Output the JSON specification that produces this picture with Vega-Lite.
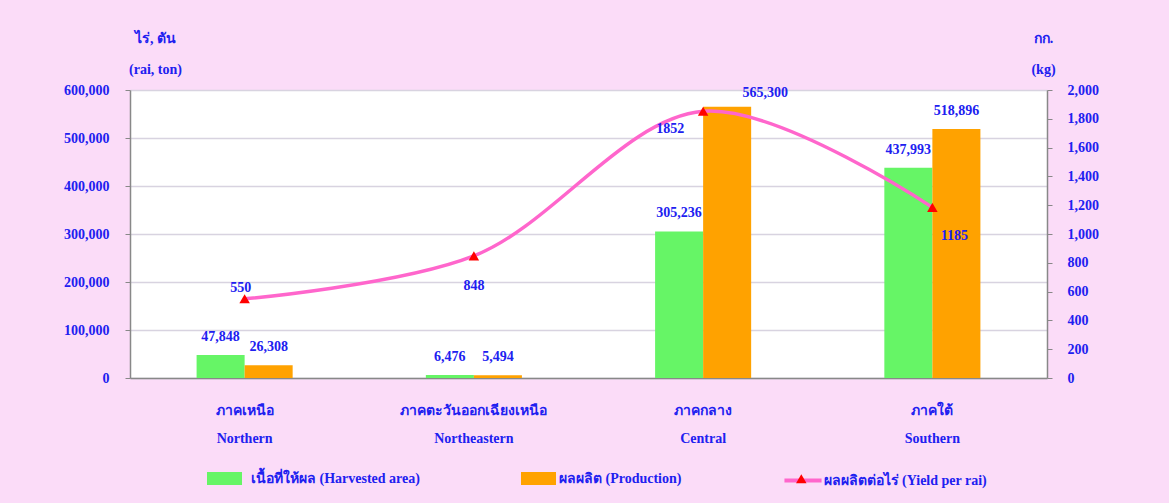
{
  "$schema": "https://vega.github.io/schema/vega-lite/v6.json",
  "width": 917,
  "height": 288,
  "autosize": {"type": "none"},
  "padding": {"left": 130, "top": 90, "right": 122, "bottom": 125},
  "background": "#fbdcf8",
  "config": {
    "view": {"fill": "#ffffff", "stroke": null},
    "font": "Liberation Serif",
    "axis": {
      "labelFont": "Liberation Serif",
      "labelFontWeight": "bold",
      "labelFontSize": 14,
      "labelColor": "#2020f0",
      "titleFont": "Liberation Serif",
      "titleFontWeight": "bold",
      "titleFontSize": 14,
      "titleColor": "#2020f0",
      "domainColor": "#888888",
      "tickColor": "#888888",
      "domainWidth": 1.5
    },
    "legend": {
      "orient": "none",
      "title": null,
      "padding": 0,
      "labelFont": "Liberation Serif",
      "labelFontWeight": "bold",
      "labelFontSize": 14,
      "labelColor": "#2020f0",
      "labelLimit": 400,
      "symbolOpacity": 1
    },
    "text": {"font": "Liberation Serif", "fontWeight": "bold", "fontSize": 14, "color": "#2020f0"}
  },
  "data": {
    "values": [
      {"region": "ภาคเหนือ|Northern", "series": "เนื้อที่ให้ผล  (Harvested area)", "value": 47848},
      {"region": "ภาคเหนือ|Northern", "series": "ผลผลิต  (Production)", "value": 26308},
      {"region": "ภาคเหนือ|Northern", "series": "ผลผลิตต่อไร่  (Yield per rai)", "value": 550},
      {"region": "ภาคตะวันออกเฉียงเหนือ|Northeastern", "series": "เนื้อที่ให้ผล  (Harvested area)", "value": 6476},
      {"region": "ภาคตะวันออกเฉียงเหนือ|Northeastern", "series": "ผลผลิต  (Production)", "value": 5494},
      {"region": "ภาคตะวันออกเฉียงเหนือ|Northeastern", "series": "ผลผลิตต่อไร่  (Yield per rai)", "value": 848},
      {"region": "ภาคกลาง|Central", "series": "เนื้อที่ให้ผล  (Harvested area)", "value": 305236},
      {"region": "ภาคกลาง|Central", "series": "ผลผลิต  (Production)", "value": 565300},
      {"region": "ภาคกลาง|Central", "series": "ผลผลิตต่อไร่  (Yield per rai)", "value": 1852},
      {"region": "ภาคใต้|Southern", "series": "เนื้อที่ให้ผล  (Harvested area)", "value": 437993},
      {"region": "ภาคใต้|Southern", "series": "ผลผลิต  (Production)", "value": 518896},
      {"region": "ภาคใต้|Southern", "series": "ผลผลิตต่อไร่  (Yield per rai)", "value": 1185}
    ]
  },
  "encoding": {
    "x": {
      "field": "region",
      "type": "nominal",
      "sort": null,
      "scale": {"paddingInner": 0.581, "paddingOuter": 0.2905},
      "axis": {
        "title": null,
        "labelExpr": "split(datum.value, '|')",
        "labelLineHeight": 28,
        "labelPadding": 25,
        "labelFontSize": 14,
        "labelAngle": 0,
        "ticks": false
      }
    }
  },
  "layer": [
    {
      "transform": [{"filter": "datum.series != 'ผลผลิตต่อไร่  (Yield per rai)'"}],
      "encoding": {
        "y": {
          "field": "value",
          "type": "quantitative",
          "scale": {"domain": [0, 600000]},
          "axis": {
            "values": [0, 100000, 200000, 300000, 400000, 500000, 600000],
            "format": ",d",
            "grid": true,
            "gridColor": "#d8d3e0",
            "gridWidth": 1.5,
            "tickSize": 5,
            "labelPadding": 16,
            "title": ["ไร่, ตัน", "(rai,  ton)"],
            "titleAngle": 0,
            "titleAlign": "center",
            "titleBaseline": "alphabetic",
            "titleX": 25,
            "titleY": -48,
            "titleLineHeight": 31
          }
        },
        "xOffset": {
          "field": "series",
          "type": "nominal",
          "scale": {"domain": ["เนื้อที่ให้ผล  (Harvested area)", "ผลผลิต  (Production)"], "paddingInner": 0, "paddingOuter": 0}
        }
      },
      "layer": [
        {
          "transform": [{"filter": "datum.series == 'เนื้อที่ให้ผล  (Harvested area)'"}],
          "mark": {"type": "bar"},
          "encoding": {
            "fill": {
              "field": "series",
              "type": "nominal",
              "scale": {"domain": ["เนื้อที่ให้ผล  (Harvested area)"], "range": ["#66f566"]},
              "legend": {
                "legendX": 77,
                "legendY": 371,
                "symbolSize": 1225,
                "symbolType": "M-1,-0.37H1V0.37H-1Z",
                "symbolStrokeWidth": 0,
                "labelOffset": 9
              }
            }
          }
        },
        {
          "transform": [{"filter": "datum.series == 'ผลผลิต  (Production)'"}],
          "mark": {"type": "bar"},
          "encoding": {
            "color": {
              "field": "series",
              "type": "nominal",
              "scale": {"domain": ["ผลผลิต  (Production)"], "range": ["#ffa200"]},
              "legend": {
                "legendX": 391,
                "legendY": 371,
                "symbolSize": 1225,
                "symbolType": "M-1,-0.37H1V0.37H-1Z",
                "symbolStrokeWidth": 0,
                "labelOffset": 3
              }
            }
          }
        },
        {
          "transform": [{"filter": "datum.region != 'ภาคกลาง|Central' || datum.series != 'ผลผลิต  (Production)'"}],
          "mark": {"type": "text", "dy": -14, "baseline": "alphabetic"},
          "encoding": {"text": {"field": "value", "type": "quantitative", "format": ","}}
        },
        {
          "transform": [{"filter": "datum.region == 'ภาคกลาง|Central' && datum.series == 'ผลผลิต  (Production)'"}],
          "mark": {"type": "text", "dy": -10, "dx": 38, "baseline": "alphabetic"},
          "encoding": {"text": {"field": "value", "type": "quantitative", "format": ","}}
        }
      ]
    },
    {
      "transform": [{"filter": "datum.series == 'ผลผลิตต่อไร่  (Yield per rai)'"}],
      "encoding": {
        "y": {
          "field": "value",
          "type": "quantitative",
          "scale": {"domain": [0, 2000]},
          "axis": {
            "orient": "right",
            "values": [0, 200, 400, 600, 800, 1000, 1200, 1400, 1600, 1800, 2000],
            "format": ",d",
            "grid": false,
            "tickSize": 5,
            "labelPadding": 15,
            "title": ["กก.", "(kg)"],
            "titleAngle": 0,
            "titleAlign": "center",
            "titleBaseline": "alphabetic",
            "titleX": -4,
            "titleY": -48,
            "titleLineHeight": 31
          }
        }
      },
      "layer": [
        {
          "mark": {"type": "line", "interpolate": "catmull-rom", "strokeWidth": 3.5},
          "encoding": {
            "stroke": {
              "field": "series",
              "type": "nominal",
              "scale": {"domain": ["ผลผลิตต่อไร่  (Yield per rai)"], "range": ["#ff66cc"]},
              "legend": {
                "legendX": 653.5,
                "legendY": 371,
                "symbolSize": 1225,
                "symbolType": "M-1.06,0H1.06",
                "symbolStrokeWidth": 4,
                "symbolFillColor": "transparent",
                "labelOffset": 1
              }
            }
          }
        },
        {
          "mark": {"type": "point", "filled": true, "color": "#ff0000", "size": 110, "opacity": 1},
          "encoding": {
            "shape": {
              "field": "series",
              "type": "nominal",
              "scale": {"domain": ["ผลผลิตต่อไร่  (Yield per rai)", "เนื้อที่ให้ผล  (Harvested area)"], "range": ["triangle-up", "triangle-up"]},
              "legend": {
                "values": ["ผลผลิตต่อไร่  (Yield per rai)"],
                "legendX": 665.8,
                "legendY": 383.3,
                "symbolSize": 110,
                "symbolFillColor": "#ff0000",
                "symbolStrokeColor": "#ff0000",
                "symbolStrokeWidth": 0,
                "labelExpr": "''",
                "labelFontSize": 1,
                "labelOffset": 0
              }
            }
          }
        },
        {
          "transform": [{"filter": "datum.region == 'ภาคเหนือ|Northern'"}],
          "mark": {"type": "text", "dy": -7, "dx": -4, "baseline": "alphabetic"},
          "encoding": {"text": {"field": "value", "type": "quantitative", "format": "d"}}
        },
        {
          "transform": [{"filter": "datum.region == 'ภาคตะวันออกเฉียงเหนือ|Northeastern'"}],
          "mark": {"type": "text", "dy": 34, "baseline": "alphabetic"},
          "encoding": {"text": {"field": "value", "type": "quantitative", "format": "d"}}
        },
        {
          "transform": [{"filter": "datum.region == 'ภาคกลาง|Central'"}],
          "mark": {"type": "text", "dy": 22, "dx": -33, "baseline": "alphabetic"},
          "encoding": {"text": {"field": "value", "type": "quantitative", "format": "d"}}
        },
        {
          "transform": [{"filter": "datum.region == 'ภาคใต้|Southern'"}],
          "mark": {"type": "text", "dy": 33, "dx": 22, "baseline": "alphabetic"},
          "encoding": {"text": {"field": "value", "type": "quantitative", "format": "d"}}
        }
      ]
    }
  ],
  "resolve": {"scale": {"y": "independent"}}
}
